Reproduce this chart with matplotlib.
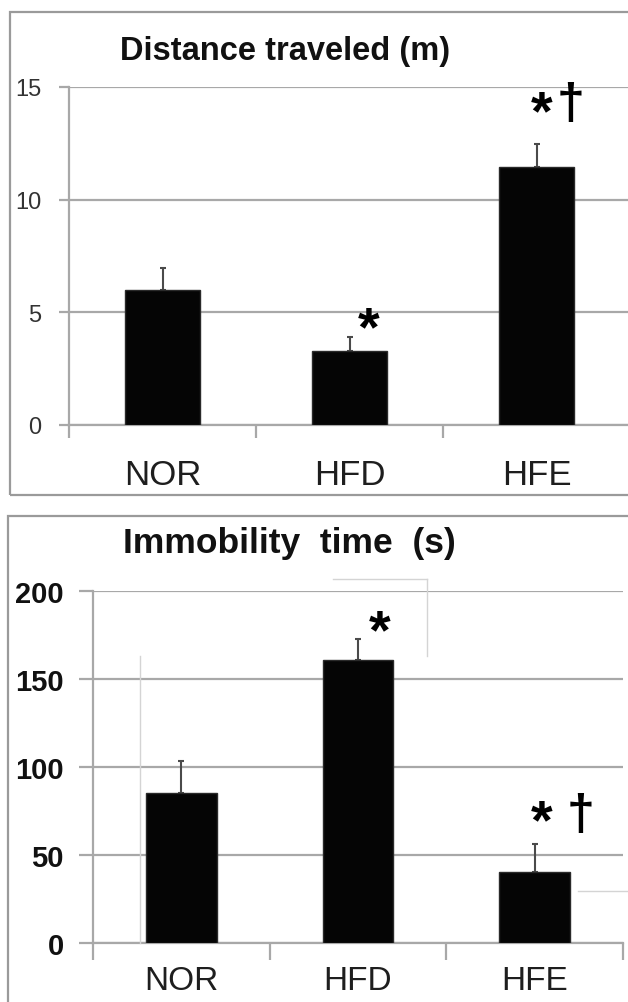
import matplotlib
matplotlib.use("Agg")
import matplotlib.pyplot as plt
import numpy as np
from matplotlib.patches import Rectangle
from matplotlib.lines import Line2D

plt.rcParams['font.family'] = ['Liberation Sans', 'DejaVu Sans']

groups = ['NOR', 'HFD', 'HFE']

distance_mean = [6.0, 3.3, 11.45]
distance_err = [0.95, 0.6, 1.0]
distance_marks = ['', '*', '*†']

immobility_mean = [85, 161, 40.5]
immobility_err = [18.5, 12, 15.5]
immobility_marks = ['', '*', '*†']

W, H = 628, 1003
fig = plt.figure(figsize=(W / 100, H / 100), dpi=100)


def fx(px):
    return px / W


def fy(py):
    return 1 - py / H


grid_col = '#a8a8a8'
box_col = '#9a9a9a'

# panel frames
fig.add_artist(Rectangle((fx(10), fy(496)), fx(640) - fx(10), fy(13) - fy(496),
                         transform=fig.transFigure, fill=False, ec=box_col, lw=1.6))
fig.add_artist(Rectangle((fx(8), fy(1010)), fx(640) - fx(8), fy(517) - fy(1010),
                         transform=fig.transFigure, fill=False, ec=box_col, lw=1.6))


def draw_panel(ax, means, errs, ymax, step, ytick_size, ytick_weight, ytick_col,
               tick_len, ylab_pad, xlab_size, xlab_pad):
    x = np.arange(len(groups))
    ax.set_axisbelow(True)
    ax.bar(x, means, width=0.4, color='#050505', edgecolor='#2a2a2a', lw=1, zorder=3)
    ax.errorbar(x, means, yerr=[np.zeros(len(errs)), errs], fmt='none',
                ecolor='#4a4a4a', elinewidth=1.5, capsize=2.5, capthick=1.5, zorder=2)
    ax.set_xlim(-0.5, len(groups) - 0.5)
    ax.set_ylim(0, ymax)
    ax.set_yticks(np.arange(0, ymax + 1, step))
    ax.yaxis.grid(True, color=grid_col, lw=1.6)
    ax.tick_params(axis='y', length=tick_len, width=1.6, color=grid_col,
                   pad=ylab_pad, labelsize=ytick_size, labelcolor=ytick_col)
    for t in ax.get_yticklabels():
        t.set_fontweight(ytick_weight)
    ax.set_xticks(x)
    ax.set_xticklabels(groups, fontsize=xlab_size, color='#1e1e1e')
    ax.tick_params(axis='x', which='major', length=0, pad=xlab_pad)
    ax.set_xticks(np.arange(-0.5, len(groups)), minor=True)
    ax.tick_params(axis='x', which='minor', length=tick_len + 2, width=1.6,
                   color=grid_col, direction='out')
    for s in ['top', 'right']:
        ax.spines[s].set_visible(False)
    for s in ['left', 'bottom']:
        ax.spines[s].set_color(grid_col)
        ax.spines[s].set_linewidth(1.6)


star_size = 40
dag_size = 36

# top panel: distance
ax1 = fig.add_axes([fx(69), fy(426), fx(630) - fx(69), fy(88) - fy(426)])
draw_panel(ax1, distance_mean, distance_err, 15, 5, 17, 'normal', '#333333',
           7, 13, 25, 24)
for i, m in enumerate(distance_marks):
    top = distance_mean[i] + distance_err[i]
    if m == '*':
        ax1.text(i + 0.1, top + 0.3, '*', ha='center', va='center',
                 fontsize=star_size, fontweight='bold')
    elif m == '*†':
        ax1.text(i + 0.03, top + 1.35, '*', ha='center', va='center',
                 fontsize=star_size, fontweight='bold')
        ax1.text(i + 0.18, top + 1.8, '†', ha='center', va='center',
                 fontsize=dag_size, fontweight='bold')

fig.text(fx(120), fy(60), 'Distance traveled (m)', fontsize=23.5,
         fontweight='bold', ha='left', va='baseline', color='#111111')

# bottom panel: immobility
ax2 = fig.add_axes([fx(93), fy(944), fx(623) - fx(93), fy(592) - fy(944)])
draw_panel(ax2, immobility_mean, immobility_err, 200, 50, 21, 'bold', '#111111',
           10, 11, 24, 16)
for i, m in enumerate(immobility_marks):
    top = immobility_mean[i] + immobility_err[i]
    if m == '*':
        ax2.text(i + 0.12, top + 3, '*', ha='center', va='center',
                 fontsize=star_size, fontweight='bold')
    elif m == '*†':
        ax2.text(i + 0.04, top + 12, '*', ha='center', va='center',
                 fontsize=star_size, fontweight='bold')
        ax2.text(i + 0.26, top + 17, '†', ha='center', va='center',
                 fontsize=dag_size, fontweight='bold')

fig.text(fx(123), fy(553), 'Immobility  time  (s)', fontsize=25.5,
         fontweight='bold', ha='left', va='baseline', color='#111111')

# faint leftover lines from the pasted original
faint = dict(color='#d4d4d4', lw=1.0, transform=fig.transFigure)
fig.add_artist(Line2D([fx(140), fx(140)], [fy(657), fy(944)], **faint))
fig.add_artist(Line2D([fx(333), fx(427)], [fy(580), fy(580)], **faint))
fig.add_artist(Line2D([fx(427), fx(427)], [fy(580), fy(657)], **faint))
fig.add_artist(Line2D([fx(578), fx(628)], [fy(892), fy(892)], **faint))

fig.savefig('out.png', dpi=100)
